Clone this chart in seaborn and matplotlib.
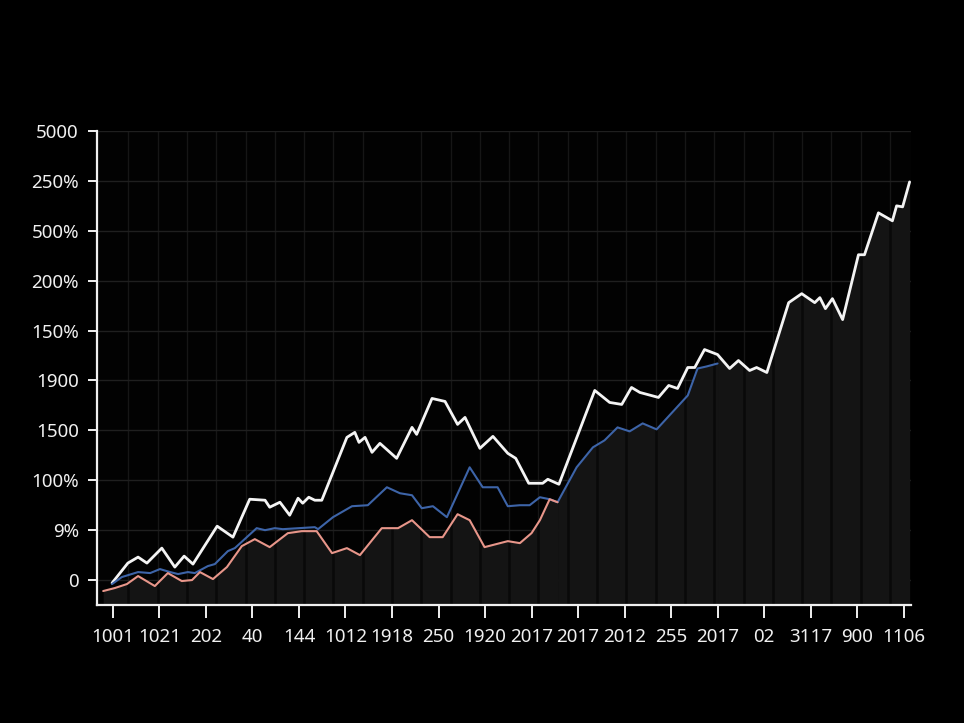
import numpy as np
import pandas as pd
import matplotlib
matplotlib.use("Agg")
import matplotlib.pyplot as plt
from matplotlib.ticker import FixedLocator
import seaborn as sns

# ---------------- data ----------------
x_tick_labels = ["1001", "1021", "202", "40", "144", "1012", "1918", "250", "1920",
                 "2017", "2017", "2012", "255", "2017", "02", "3117", "900", "1106"]
y_tick_labels = ["0", "9%", "100%", "1500", "1900", "150%", "200%", "500%", "250%", "5000"]

white_x = [-0.02, 0.32, 0.54, 0.73, 1.05, 1.33, 1.53, 1.72, 2.24, 2.58, 2.94, 3.27, 3.37,
           3.59, 3.80, 3.98, 4.08, 4.21, 4.34, 4.49, 5.03, 5.20, 5.29, 5.42, 5.57, 5.74,
           6.10, 6.43, 6.53, 6.86, 7.14, 7.41, 7.57, 7.89, 8.17, 8.49, 8.66, 8.94, 9.24,
           9.35, 9.59, 10.36, 10.68, 10.94, 11.15, 11.33, 11.73, 11.95, 12.14, 12.36,
           12.51, 12.72, 13.00, 13.26, 13.45, 13.69, 13.84, 14.06, 14.53, 14.81, 15.09,
           15.20, 15.32, 15.47, 15.69, 16.03, 16.16, 16.46, 16.76, 16.85, 16.98, 17.13]
white_y = [-0.06, 0.34, 0.46, 0.34, 0.64, 0.26, 0.48, 0.32, 1.08, 0.86, 1.62, 1.60, 1.46,
           1.56, 1.30, 1.64, 1.54, 1.66, 1.60, 1.60, 2.86, 2.96, 2.76, 2.86, 2.56, 2.74,
           2.44, 3.06, 2.92, 3.64, 3.58, 3.12, 3.26, 2.64, 2.88, 2.54, 2.44, 1.94, 1.94,
           2.02, 1.92, 3.80, 3.56, 3.52, 3.86, 3.76, 3.66, 3.90, 3.84, 4.26, 4.26, 4.62,
           4.52, 4.24, 4.40, 4.20, 4.26, 4.16, 5.56, 5.74, 5.56, 5.66, 5.44, 5.64, 5.22,
           6.52, 6.52, 7.36, 7.20, 7.50, 7.48, 7.98]

blue_x = [-0.02, 0.19, 0.54, 0.80, 1.01, 1.23, 1.40, 1.61, 1.76, 2.04, 2.19, 2.47, 2.62,
          3.09, 3.27, 3.48, 3.65, 4.34, 4.41, 4.73, 5.14, 5.48, 5.89, 6.17, 6.43, 6.64,
          6.88, 7.18, 7.67, 7.95, 8.27, 8.49, 8.75, 8.96, 9.18, 9.39, 9.56, 9.97, 10.32,
          10.57, 10.85, 11.11, 11.39, 11.69, 12.36, 12.57, 12.76, 13.00]
blue_y = [-0.08, 0.06, 0.16, 0.14, 0.22, 0.16, 0.12, 0.16, 0.14, 0.28, 0.32, 0.58, 0.64,
          1.04, 1.00, 1.04, 1.02, 1.06, 1.02, 1.26, 1.48, 1.50, 1.86, 1.74, 1.70, 1.44,
          1.48, 1.26, 2.26, 1.86, 1.86, 1.48, 1.50, 1.50, 1.66, 1.62, 1.56, 2.26, 2.66,
          2.80, 3.06, 2.98, 3.14, 3.02, 3.70, 4.24, 4.28, 4.34]

red_x = [-0.21, 0.04, 0.30, 0.54, 0.90, 1.18, 1.48, 1.70, 1.87, 2.15, 2.45, 2.77, 3.05,
         3.37, 3.76, 4.06, 4.38, 4.71, 5.03, 5.31, 5.78, 6.13, 6.43, 6.81, 7.09, 7.41,
         7.67, 7.99, 8.49, 8.75, 9.00, 9.18, 9.39, 9.56]
red_y = [-0.22, -0.16, -0.08, 0.08, -0.12, 0.14, -0.02, 0.00, 0.16, 0.02, 0.26, 0.68, 0.82,
         0.66, 0.94, 0.98, 0.98, 0.54, 0.64, 0.50, 1.04, 1.04, 1.20, 0.86, 0.86, 1.32,
         1.20, 0.66, 0.78, 0.74, 0.94, 1.20, 1.62, 1.56]

series_names = ["white", "blue", "red"]
series_colors = {"white": "#f4f4f4", "blue": "#3d64a8", "red": "#e8968a"}

df = pd.concat([
    pd.DataFrame({"x": white_x, "y": white_y, "series": "white"}),
    pd.DataFrame({"x": blue_x, "y": blue_y, "series": "blue"}),
    pd.DataFrame({"x": red_x, "y": red_y, "series": "red"}),
], ignore_index=True)

# ---------------- styling ----------------
sns.set_theme(style="dark")
plt.rcParams["font.family"] = ["Noto Sans", "DejaVu Sans"]

fig = plt.figure(figsize=(9.64, 7.23), dpi=100, facecolor="black")
ax = fig.add_axes([0.1006, 0.1632, 0.9455 - 0.1006, 0.8188 - 0.1632])
ax.set_facecolor("#020202")

ymin, ymax = -0.5, 9.0
ax.set_xlim(-0.344, 17.17)
ax.set_ylim(ymin, ymax)

grid_x = np.arange(0.33, 17.2, 0.63)

# dark area beneath the lowest visible curve, with darker vertical stripes inside
wx, wy = np.array(white_x), np.array(white_y)
bx, by = np.array(blue_x), np.array(blue_y)
rx, ry = np.array(red_x), np.array(red_y)
fill_col = "#141414"
mb = bx >= rx[-1]
mw = wx >= bx[-1]
for fx, fy in [(rx, ry), (bx[mb], by[mb]), (wx[mw], wy[mw])]:
    poly = ax.fill_between(fx, fy, ymin, color=fill_col, lw=0, zorder=1)
    stripes = ax.vlines(grid_x, ymin, ymax, colors="#090909", lw=1.8, zorder=2)
    stripes.set_clip_path(poly.get_paths()[0], ax.transData)

# grid
ax.yaxis.set_major_locator(FixedLocator(range(len(y_tick_labels))))
ax.set_yticklabels(y_tick_labels)
ax.xaxis.set_major_locator(FixedLocator(range(len(x_tick_labels))))
ax.set_xticklabels(x_tick_labels)
ax.xaxis.set_minor_locator(FixedLocator(grid_x))
ax.grid(False)
ax.grid(which="major", axis="y", color="#1f1f1f", lw=1.0, zorder=0)
ax.grid(which="minor", axis="x", color="#161616", lw=1.0, zorder=0)
ax.set_axisbelow(True)

sns.lineplot(data=df, x="x", y="y", hue="series", hue_order=series_names,
             palette=series_colors, sort=False, estimator=None, legend=False,
             ax=ax, zorder=5)
for line, name in zip(ax.lines, series_names):
    line.set_linewidth(2.0 if name == "white" else 1.5)

ax.set_xlabel("")
ax.set_ylabel("")

for side in ["top", "right"]:
    ax.spines[side].set_visible(False)
for side in ["left", "bottom"]:
    ax.spines[side].set_visible(True)
    ax.spines[side].set_color("#f0f0f0")
    ax.spines[side].set_linewidth(1.6)
    ax.spines[side].set_zorder(6)

ax.tick_params(axis="y", which="major", colors="#f0f0f0", length=6.5, width=1.4,
               pad=6.5, labelsize=13.5, left=True, direction="out")
ax.tick_params(axis="x", which="major", colors="#f0f0f0", length=9.5, width=1.4,
               pad=7.0, labelsize=13.5, bottom=True, direction="out")
ax.tick_params(axis="x", which="minor", length=0)

fig.savefig("out.png", dpi=100, facecolor="black")
